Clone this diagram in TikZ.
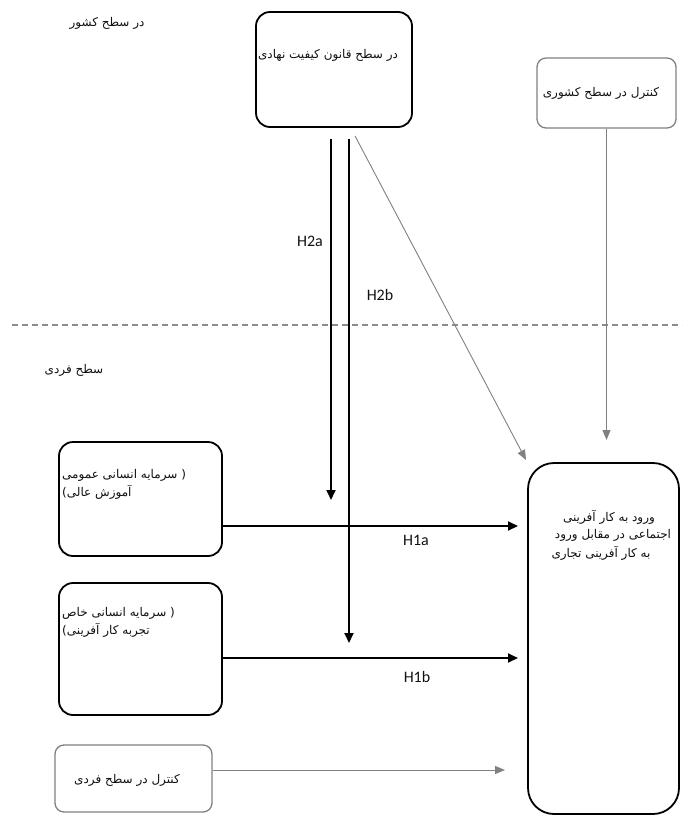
\documentclass[tikz,border=0pt]{standalone}
\usepackage{fontspec}
\newfontfamily\fa[Script=Arabic]{DejaVu Sans}
\newfontfamily\lat{Carlito}
\TeXXeTstate=1
\usetikzlibrary{arrows.meta,calc}
\newcommand{\rtl}[1]{\beginR #1\endR}
\definecolor{gline}{HTML}{808080}
\definecolor{dline}{HTML}{8C8C8C}
\definecolor{txt}{HTML}{111111}
\begin{document}
\begin{tikzpicture}[x=1pt,y=-1pt,
  blkbox/.style={draw=black,line width=1.8pt,rounded corners=14pt,inner sep=0pt},
  grybox/.style={draw=gline,line width=1.3pt,rounded corners=9pt,inner sep=0pt},
  bigbox/.style={draw=black,line width=1.8pt,rounded corners=26pt,inner sep=0pt},
  blkarrow/.style={draw=black,line width=1.8pt,-{Triangle[length=10pt,width=9pt]}},
  gryarrow/.style={draw=gline,line width=1pt,-{Triangle[length=10pt,width=8pt]}},
  diagline/.style={draw=gline,line width=0.9pt,-{Triangle[length=10pt,width=8pt]}},
  sepline/.style={draw=dline,line width=1.2pt,dash pattern=on 6pt off 4pt},
  fatext/.style={font=\fa\fontsize{12}{18}\selectfont,text=txt,inner sep=0pt},
  hlabel/.style={font=\lat\fontsize{16}{18}\selectfont,text=txt,inner sep=0pt}
]
\useasboundingbox (0,0) rectangle (682,818);

% boxes
\node[blkbox,minimum width=156pt,minimum height=115pt] (top) at (334,69.5) {};
\node[grybox,minimum width=139pt,minimum height=70pt] (ctrlc) at (606.5,93) {};
\node[blkbox,minimum width=163pt,minimum height=114pt] (box1) at (140.5,499) {};
\node[blkbox,minimum width=163pt,minimum height=132pt] (box2) at (140.5,649) {};
\node[grybox,minimum width=157pt,minimum height=67pt] (ctrli) at (133.5,778.5) {};
\node[bigbox,minimum width=151pt,minimum height=351pt] (big) at (603.5,638.5) {};

% texts
\node[fatext] (lvlc) at (107,23) {\rtl{در سطح کشور}};
\node[fatext] (toptext) at (328,55) {\rtl{در سطح قانون کیفیت نهادی}};
\node[fatext] (ctrlctext) at (601,93) {\rtl{کنترل در سطح کشوری}};
\node[fatext] (lvli) at (74,370) {\rtl{سطح فردی}};
\node[fatext,anchor=west] (b1l1) at (62,475) {\rtl{سرمایه انسانی عمومی} (};
\node[fatext,anchor=west] (b1l2) at (62,492) {)\rtl{آموزش عالی}};
\node[fatext,anchor=west] (b2l1) at (62,613) {\rtl{سرمایه انسانی خاص} (};
\node[fatext,anchor=west] (b2l2) at (62,630) {)\rtl{تجربه کار آفرینی}};
\node[fatext] (ctrlitext) at (127,780) {\rtl{کنترل در سطح فردی}};
\node[fatext] (bl1) at (609,517) {\rtl{ورود به کار آفرینی}};
\node[fatext] (bl2) at (613,535) {\rtl{اجتماعی در مقابل ورود}};
\node[fatext] (bl3) at (601,553) {\rtl{به کار آفرینی تجاری}};

% labels
\node[hlabel] (lh2a) at (310,241) {H2a};
\node[hlabel] (lh2b) at (380,295) {H2b};
\node[hlabel] (lh1a) at (416,540) {H1a};
\node[hlabel] (lh1b) at (417,677) {H1b};

% separator
\coordinate (dl) at (12,325);
\coordinate (dr) at (682,325);
\draw[sepline] (dl) -- (dr);

% connector ends
\coordinate (h2aend) at (331,500);
\coordinate (h2bend) at (349,643);
\coordinate (diagend) at (526,460);
\coordinate (ctrlcend) at (606.5,440);
\coordinate (h1aend) at (518,526);
\coordinate (h1bend) at (518,658);
\coordinate (ctrliend) at (505,770);

\draw[blkarrow,shorten <=11pt] (top.south -| h2aend) -- (h2aend);
\draw[blkarrow,shorten <=11pt] (top.south -| h2bend) -- (h2bend);
\draw[diagline] ($(top.south)+(21,8)$) -- (diagend);
\draw[gryarrow] (ctrlc.south) -- (ctrlcend);
\draw[blkarrow] (box1.east |- h1aend) -- (h1aend);
\draw[blkarrow] (box2.east |- h1bend) -- (h1bend);
\draw[gryarrow] (ctrli.east |- ctrliend) -- (ctrliend);
\end{tikzpicture}
\end{document}
